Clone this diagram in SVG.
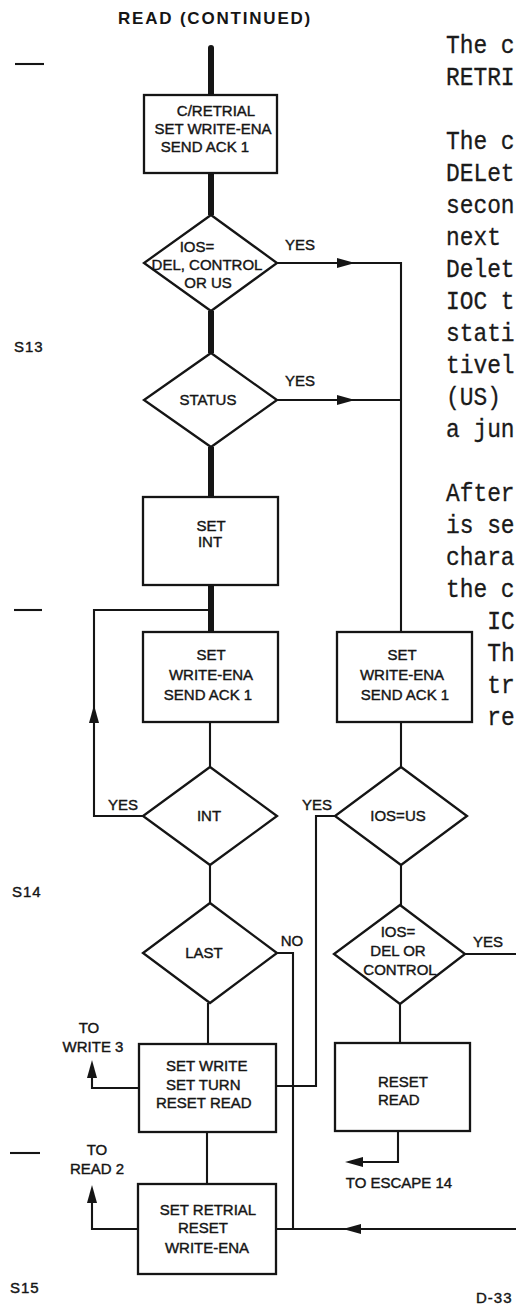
<svg xmlns="http://www.w3.org/2000/svg" width="516" height="1306" viewBox="0 0 516 1306">
<style>
.bx{fill:#fff;stroke:#151515;stroke-width:2.3}
.ln{fill:none;stroke:#151515;stroke-width:2.1}
.th{fill:none;stroke:#151515;stroke-width:6}
.t{font-family:"Liberation Sans",Arial,sans-serif;font-size:15px;fill:#151515;stroke:#151515;stroke-width:0.4;text-anchor:middle}
.s{text-anchor:start}
.tt{font-family:"Liberation Sans",Arial,sans-serif;font-size:17px;font-weight:bold;letter-spacing:1.8px;fill:#151515}
.mg{font-family:"Liberation Sans",Arial,sans-serif;font-size:15px;letter-spacing:1px;fill:#151515;stroke:#151515;stroke-width:0.4}
.m{font-family:"Liberation Mono","Courier New",monospace;font-size:26px;fill:#1a1a1a;stroke:#1a1a1a;stroke-width:0.3}
.ah{fill:#151515}
</style>
<defs><path id="ah" class="ah" d="M0,0 L-18,-5 L-18,5 Z"/></defs>
<rect width="516" height="1306" fill="#fff"/>

<text class="tt" x="118" y="24">READ (CONTINUED)</text>

<g id="margin">
<line class="ln" x1="15" y1="64" x2="44" y2="64"/>
<line class="ln" x1="14" y1="610" x2="42" y2="610"/>
<line class="ln" x1="10" y1="1153" x2="40" y2="1153"/>
<text class="mg" x="14" y="352">S13</text>
<text class="mg" x="12" y="897">S14</text>
<text class="mg" x="10" y="1293">S15</text>
<text class="mg" x="476" y="1303">D-33</text>
</g>

<g id="connectors">
<path class="th" d="M211,48 V95" stroke-linecap="round"/>
<path class="th" d="M211,173 V215 M211,311 V353 M211,447 V497 M211,585 V632"/>
<path class="ln" d="M277,263 H401 V632 M277,400 H401"/>
<use href="#ah" transform="translate(355,263)"/>
<use href="#ah" transform="translate(355,400)"/>
<path class="ln" d="M143,816 H94 V610 H211"/>
<use href="#ah" transform="translate(94,705) rotate(-90)"/>
<path class="ln" d="M210,722 V767 M210,865 V903 M208,1003 V1044 M207,1132 V1184"/>
<path class="ln" d="M401,722 V767 M401,865 V905 M400,1004 V1043"/>
<path class="ln" d="M335,816 H316 V1086 H276"/>
<path class="ln" d="M465,954 H516"/>
<path class="ln" d="M277,953 H293 V1229"/>
<path class="ln" d="M516,1229 H276"/>
<use href="#ah" transform="translate(343,1229) rotate(180)"/>
<path class="ln" d="M139,1088 H92 V1068"/>
<use href="#ah" transform="translate(92,1060) rotate(-90)"/>
<path class="ln" d="M138,1229 H92 V1192"/>
<use href="#ah" transform="translate(92,1185) rotate(-90)"/>
<path class="ln" d="M398,1131 V1162 H352"/>
<use href="#ah" transform="translate(345,1162) rotate(180)"/>
<text class="t" x="300" y="250">YES</text>
<text class="t" x="300" y="386">YES</text>
<text class="t" x="123" y="810">YES</text>
<text class="t" x="317" y="810">YES</text>
<text class="t" x="488" y="947">YES</text>
<text class="t" x="292" y="946">NO</text>
<text class="t" x="89" y="1033">TO</text>
<text class="t" x="93" y="1052">WRITE 3</text>
<text class="t" x="97" y="1155">TO</text>
<text class="t" x="97" y="1174">READ 2</text>
<text class="t" x="399" y="1188">TO ESCAPE 14</text>
</g>

<g id="n-cretrial">
<rect class="bx" x="144" y="95" width="133" height="78"/>
<text class="t" x="216" y="116">C/RETRIAL</text>
<text class="t" x="213" y="134">SET WRITE-ENA</text>
<text class="t" x="205" y="152">SEND ACK 1</text>
</g>

<g id="d-ios-del-control-us">
<polygon class="bx" points="211,215 277,263 211,311 144,263"/>
<text class="t" x="197" y="252">IOS=</text>
<text class="t" x="207" y="270">DEL, CONTROL</text>
<text class="t" x="208" y="288">OR US</text>
</g>

<g id="d-status">
<polygon class="bx" points="211,353 277,400 211,447 144,400"/>
<text class="t" x="208" y="405">STATUS</text>
</g>

<g id="n-set-int">
<rect class="bx" x="143" y="497" width="135" height="88"/>
<text class="t" x="211" y="531">SET</text>
<text class="t" x="210" y="547">INT</text>
</g>

<g id="n-set-write-ena-left">
<rect class="bx" x="143" y="632" width="135" height="90"/>
<text class="t" x="211" y="660">SET</text>
<text class="t" x="211" y="680">WRITE-ENA</text>
<text class="t" x="208" y="700">SEND ACK 1</text>
</g>

<g id="n-set-write-ena-right">
<rect class="bx" x="337" y="632" width="135" height="90"/>
<text class="t" x="402" y="660">SET</text>
<text class="t" x="402" y="680">WRITE-ENA</text>
<text class="t" x="405" y="700">SEND ACK 1</text>
</g>

<g id="d-int">
<polygon class="bx" points="210,767 277,816 210,865 143,816"/>
<text class="t" x="209" y="821">INT</text>
</g>

<g id="d-ios-us">
<polygon class="bx" points="401,767 467,816 401,865 335,816"/>
<text class="t" x="398" y="821">IOS=US</text>
</g>

<g id="d-last">
<polygon class="bx" points="210,903 277,953 210,1003 143,953"/>
<text class="t" x="204" y="958">LAST</text>
</g>

<g id="d-ios-del-control">
<polygon class="bx" points="400,905 465,954 400,1004 334,954"/>
<text class="t" x="398" y="937">IOS=</text>
<text class="t" x="398" y="956">DEL OR</text>
<text class="t" x="400" y="975">CONTROL</text>
</g>

<g id="n-set-write">
<rect class="bx" x="139" y="1044" width="137" height="88"/>
<text class="t s" x="166" y="1071">SET WRITE</text>
<text class="t s" x="166" y="1090">SET TURN</text>
<text class="t s" x="156" y="1108">RESET READ</text>
</g>

<g id="n-reset-read">
<rect class="bx" x="335" y="1043" width="135" height="88"/>
<text class="t s" x="378" y="1087">RESET</text>
<text class="t s" x="378" y="1105">READ</text>
</g>

<g id="n-set-retrial">
<rect class="bx" x="138" y="1184" width="138" height="90"/>
<text class="t" x="208" y="1215">SET RETRIAL</text>
<text class="t" x="203" y="1233">RESET</text>
<text class="t" x="207" y="1253">WRITE-ENA</text>
</g>

<g id="text-right" transform="translate(446,0) scale(0.88,1)">
<text class="m" x="0" y="53">The c</text>
<text class="m" x="0" y="85">RETRI</text>
<text class="m" x="0" y="149">The c</text>
<text class="m" x="0" y="181">DELet</text>
<text class="m" x="0" y="213">secon</text>
<text class="m" x="0" y="245">next</text>
<text class="m" x="0" y="277">Delet</text>
<text class="m" x="0" y="309">IOC t</text>
<text class="m" x="0" y="341">stati</text>
<text class="m" x="0" y="373">tivel</text>
<text class="m" x="0" y="405">(US)</text>
<text class="m" x="0" y="437">a jun</text>
<text class="m" x="0" y="501">After</text>
<text class="m" x="0" y="533">is se</text>
<text class="m" x="0" y="565">chara</text>
<text class="m" x="0" y="597">the c</text>
<text class="m" x="46.8" y="629">IC</text>
<text class="m" x="46.8" y="661">Th</text>
<text class="m" x="46.8" y="693">tr</text>
<text class="m" x="46.8" y="725">re</text>
</g>
</svg>
